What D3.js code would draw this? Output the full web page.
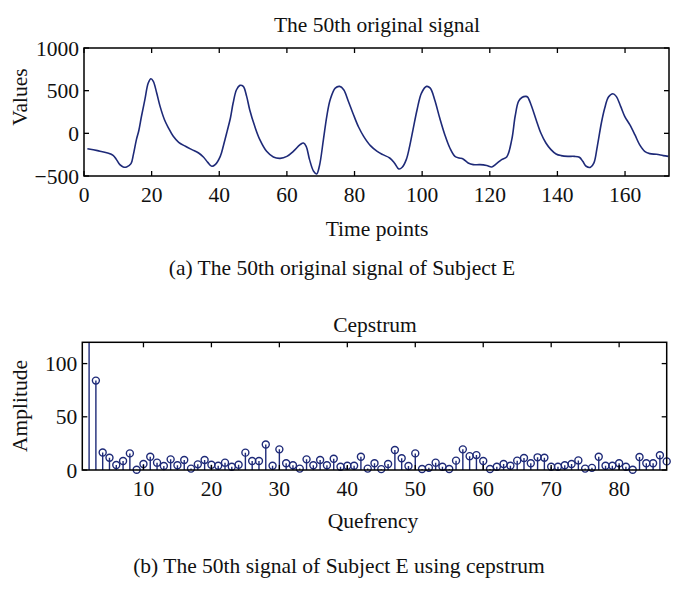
<!DOCTYPE html>
<html><head><meta charset="utf-8">
<script src="https://cdn.jsdelivr.net/npm/d3@7"></script>
<style>
body{margin:0;background:#fff;}
svg text{font-family:"Liberation Serif","Times New Roman",serif;fill:#111;}
</style></head>
<body><svg id="c" width="686" height="597"></svg>
<script>
// ---- data: original signal (time point, value)
const signalTime = [1,4,7,8.6,9.6,10.6,11.6,12.6,13.9,14.6,15.5,16.2,17,18,19,19.8,20.5,21.5,22.5,23.8,25,26.4,28,30,31.9,33.9,35.3,36.6,37.8,38.8,40.3,41.3,42.3,43.3,44.1,45.1,46.1,47.1,48.1,49,50.5,52,54,56,58,60,61.9,63.9,64.9,65.7,66.7,67.9,68.8,69.6,70.8,71.8,72.8,74.3,75.6,76.8,78.2,79.7,81.2,82.7,84.7,86.7,88.4,90.4,91.8,93.1,94.1,95.3,96.3,97.3,98.5,99.8,101.3,102.4,103.7,105.2,106.7,108.2,109.7,111,112.1,113.6,115.1,117.1,119.1,120.6,122,123.5,125,126.5,127.5,128.5,129.5,130.7,131.2,132.2,133.7,135.1,136.6,138.1,139.6,141.1,143.1,145,146.5,147.5,148.5,149.8,150.8,151.8,153,154,155.1,156.4,157.4,158.7,159.9,161.4,162.9,164.3,165.8,167.3,169.3,171.3,172.8];
const signalValue = [-180,-203,-230,-257,-308,-367,-394,-394,-355,-250,-74,30,200,394,590,640,608,472,316,160,62,-35,-105,-152,-191,-230,-277,-340,-386,-367,-270,-133,20,180,355,511,562,550,433,277,82,-74,-211,-277,-293,-270,-211,-133,-113,-152,-308,-445,-476,-386,-74,200,394,530,550,511,374,218,74,-35,-144,-211,-250,-289,-347,-418,-398,-308,-152,43,277,472,550,530,394,179,-16,-172,-270,-289,-300,-347,-367,-367,-378,-394,-355,-308,-277,-74,200,374,420,433,425,335,160,4,-113,-191,-242,-261,-270,-270,-281,-328,-386,-398,-347,-152,121,296,425,464,433,316,200,101,-16,-133,-211,-238,-246,-261,-270];
// ---- data: cepstrum (quefrency 1..87)
const quefrency = d3.range(1, 88);
const cepAmp = [600,240,84,16.5,11.5,4.7,8.4,15.6,0.3,5.6,12.5,6.9,3.8,10,4.4,9.4,1.3,5.3,9.4,5,4,6.9,3.1,5,16.3,8.4,8.4,24,4,19.4,6.3,4.4,1.3,10,4.4,9.4,4.4,10.6,3.1,4,4,12.5,1.3,6.3,0.8,5.6,18.8,11,3.8,15.6,1,2,6.9,3.1,1,8.8,19.4,13,14,8.4,1,3.1,5.6,4,8.8,11.3,6.3,11.9,11.5,3.1,3.1,4.4,5.6,9,1.3,2,12.5,4,4,6.3,3.1,0.2,12.2,6.3,6.3,13.8,8.1];
const topXTicks = [0,20,40,60,80,100,120,140,160];
const topYTicks = [-500,0,500,1000];
const botXTicks = [10,20,30,40,50,60,70,80];
const botYTicks = [0,50,100];

const svg = d3.select("#c");
const color = "#1e2a78";
const fs = 21.5;

function frame(g, x, y, xt, yt, fmt) {
  const [x0, x1] = x.range(), [y0, y1] = y.range();
  const tl = 5;
  xt.forEach(t => {
    g.append("line").attr("x1", x(t)).attr("x2", x(t)).attr("y1", y0).attr("y2", y0 - tl).attr("stroke", "#000").attr("stroke-width", 1.3);
    g.append("line").attr("x1", x(t)).attr("x2", x(t)).attr("y1", y1).attr("y2", y1 + tl).attr("stroke", "#000").attr("stroke-width", 1.3);
    g.append("text").attr("x", x(t)).attr("y", y0 + 26).attr("text-anchor", "middle").attr("font-size", fs).text(fmt(t));
  });
  yt.forEach(t => {
    g.append("line").attr("x1", x0).attr("x2", x0 + tl).attr("y1", y(t)).attr("y2", y(t)).attr("stroke", "#000").attr("stroke-width", 1.3);
    g.append("line").attr("x1", x1).attr("x2", x1 - tl).attr("y1", y(t)).attr("y2", y(t)).attr("stroke", "#000").attr("stroke-width", 1.3);
    g.append("text").attr("x", x0 - 5).attr("y", y(t)).attr("dy", "0.35em").attr("text-anchor", "end").attr("font-size", fs).text(fmt(t));
  });
  g.append("rect").attr("x", x0).attr("y", y1).attr("width", x1 - x0).attr("height", y0 - y1)
    .attr("fill", "none").attr("stroke", "#000").attr("stroke-width", 1.5);
}
const fmt = d => d3.format("")(d);

// ---------- top chart
const xA = d3.scaleLinear().domain([0, 173]).range([84, 669]);
const yA = d3.scaleLinear().domain([-500, 1000]).range([176, 48]);
const gA = svg.append("g");
svg.append("defs").append("clipPath").attr("id", "clipA").append("rect")
  .attr("x", 84).attr("y", 48).attr("width", 585).attr("height", 128);
gA.append("path")
  .datum(signalTime.map((t, i) => [t, signalValue[i]]))
  .attr("clip-path", "url(#clipA)")
  .attr("fill", "none").attr("stroke", color).attr("stroke-width", 1.6)
  .attr("d", d3.line().x(d => xA(d[0])).y(d => yA(d[1])).curve(d3.curveCatmullRom.alpha(0.5)));
frame(gA, xA, yA, topXTicks, topYTicks, fmt);
gA.append("text").attr("x", 377).attr("y", 32).attr("text-anchor", "middle").attr("font-size", fs).text("The 50th original signal");
gA.append("text").attr("x", 377).attr("y", 236).attr("text-anchor", "middle").attr("font-size", fs).text("Time points");
gA.append("text").attr("transform", "translate(27,97) rotate(-90)").attr("text-anchor", "middle").attr("font-size", fs).text("Values");
gA.append("text").attr("x", 342).attr("y", 275).attr("text-anchor", "middle").attr("font-size", fs).text("(a)  The 50th original signal of Subject E");

// ---------- bottom chart
const xB = d3.scaleLinear().domain([1, 87]).range([82.3, 666.7]);
const yB = d3.scaleLinear().domain([0, 120]).range([470, 342.3]);
const gB = svg.append("g");
svg.select("defs").append("clipPath").attr("id", "clipB").append("rect")
  .attr("x", 82.3).attr("y", 342.3).attr("width", 584.4).attr("height", 127.7);
const cep = quefrency.map((q, i) => ({q, v: cepAmp[i]}));
gB.append("g").attr("clip-path", "url(#clipB)").selectAll("line").data(cep).join("line")
  .attr("x1", d => xB(d.q)).attr("x2", d => xB(d.q))
  .attr("y1", yB(0)).attr("y2", d => yB(d.v))
  .attr("stroke", color).attr("stroke-width", 1.4);
gB.append("g").selectAll("circle").data(cep.filter(d => d.v <= 120)).join("circle")
  .attr("cx", d => xB(d.q)).attr("cy", d => yB(d.v)).attr("r", 3.5)
  .attr("fill", "none").attr("stroke", color).attr("stroke-width", 1.4);
frame(gB, xB, yB, botXTicks, botYTicks, fmt);
gB.append("text").attr("x", 375).attr("y", 332).attr("text-anchor", "middle").attr("font-size", fs).text("Cepstrum");
gB.append("text").attr("x", 373).attr("y", 528).attr("text-anchor", "middle").attr("font-size", fs).text("Quefrency");
gB.append("text").attr("transform", "translate(27,406) rotate(-90)").attr("text-anchor", "middle").attr("font-size", fs).text("Amplitude");
gB.append("text").attr("x", 339).attr("y", 573).attr("text-anchor", "middle").attr("font-size", fs).text("(b)  The 50th signal of Subject E using cepstrum");
</script></body></html>
